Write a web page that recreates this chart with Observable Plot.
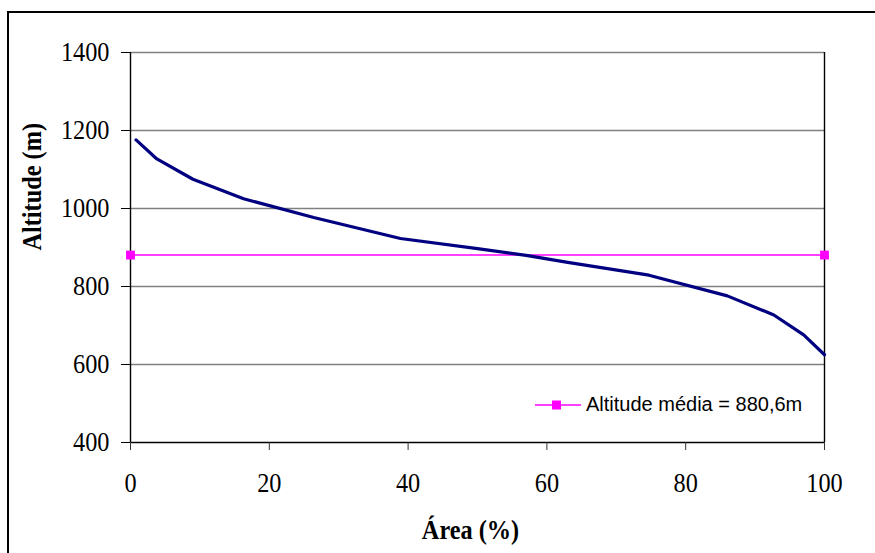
<!DOCTYPE html>
<html>
<head>
<meta charset="utf-8">
<script src="https://cdn.jsdelivr.net/npm/d3@7"></script>
<script src="https://cdn.jsdelivr.net/npm/@observablehq/plot@0.6"></script>
<style>
  html, body { margin: 0; padding: 0; background: #fff; overflow: hidden; }
  #wrap { position: relative; width: 875px; height: 553px; overflow: hidden; }
  #frame { position: absolute; left: 7px; top: 11px; width: 1000px; height: 800px;
           border-left: 2px solid #000; border-top: 2px solid #000; pointer-events: none; }
  #legend { position: absolute; left: 535px; top: 393px; display: flex; align-items: center;
            font-family: "Liberation Sans", Arial, sans-serif; font-size: 20px; color: #000; white-space: nowrap; }
  #legend svg { margin-right: 5px; }
</style>
</head>
<body>
<div id="wrap">
  <div id="chart"></div>
  <div id="frame"></div>
  <div id="legend"></div>
</div>
<script>
// Hypsometric curve data
const area = [0.8, 3.8, 9, 16.3, 26.4, 38.9, 50, 57, 63, 74.7, 86, 92.7, 97, 100];
const altitude = [1176, 1127, 1075, 1025, 977, 923, 897, 880, 862, 829, 776, 727, 676, 625];

// Mean altitude line
const meanArea = [0, 100];
const meanAltitude = [880.6, 880.6];
const meanLabel = "Altitude média = 880,6m";

// Axes
const xTicks = [0, 20, 40, 60, 80, 100];
const yTicks = [400, 600, 800, 1000, 1200, 1400];
const xTitle = "Área (%)";
const yTitle = "Altitude (m)";

const curve = area.map((a, i) => ({area: a, alt: altitude[i]}));
const mean = meanArea.map((a, i) => ({area: a, alt: meanAltitude[i]}));

const serif = "'Liberation Serif', 'Times New Roman', serif";

const chart = Plot.plot({
  width: 875,
  height: 553,
  marginLeft: 130,
  marginRight: 51,
  marginTop: 52,
  marginBottom: 111,
  x: {domain: [0, 100]},
  y: {domain: [400, 1400]},
  style: {fontFamily: serif, background: "transparent", color: "#000", overflow: "visible"},
  marks: [
    Plot.ruleY(yTicks.filter(d => d > 400), {stroke: "#808080", strokeWidth: 1.4}),
    Plot.ruleX([100], {stroke: "#000", strokeWidth: 1.4}),
    Plot.ruleX([0], {stroke: "#000", strokeWidth: 1.4}),
    Plot.ruleY([400], {stroke: "#000", strokeWidth: 1.4}),
    Plot.axisX(xTicks, {tickSize: 8, tickPadding: 22, fontSize: 27, fontFamily: serif, label: null, stroke: "#333", tickFormat: d => String(d)}),
    Plot.axisY(yTicks, {tickSize: 9, tickPadding: 12, fontSize: 27, fontFamily: serif, label: null, stroke: "#000", tickFormat: d => String(d)}),
    Plot.line(mean, {x: "area", y: "alt", stroke: "#ff00ff", strokeWidth: 1.6}),
    Plot.dot(mean, {x: "area", y: "alt", symbol: "square", r: 5, fill: "#ff00ff", stroke: "none"}),
    Plot.line(curve, {x: "area", y: "alt", stroke: "#000080", strokeWidth: 3.2, strokeLinejoin: "round"}),
    Plot.text([xTitle], {frameAnchor: "bottom", dy: 96, dx: -7, fontSize: 27, fontWeight: "bold", fontFamily: serif}),
    Plot.text([yTitle], {frameAnchor: "left", dx: -98, dy: 3, rotate: -90, fontSize: 27, fontWeight: "bold", fontFamily: serif})
  ]
});
// Slightly condensed serif text, as in the reference
d3.select(chart).selectAll("text").each(function() {
  const t = this.getAttribute("transform") || "";
  this.setAttribute("transform", t + " scale(0.9,1)");
});
document.getElementById("chart").appendChild(chart);

// Legend
const legend = document.getElementById("legend");
legend.innerHTML =
  '<svg width="46" height="12"><line x1="0" y1="6" x2="46" y2="6" stroke="#ff00ff" stroke-width="1.6"/>' +
  '<rect x="17" y="1.5" width="9" height="9" fill="#ff00ff"/></svg>';
const span = document.createElement("span");
span.textContent = meanLabel;
legend.appendChild(span);
</script>
</body>
</html>
